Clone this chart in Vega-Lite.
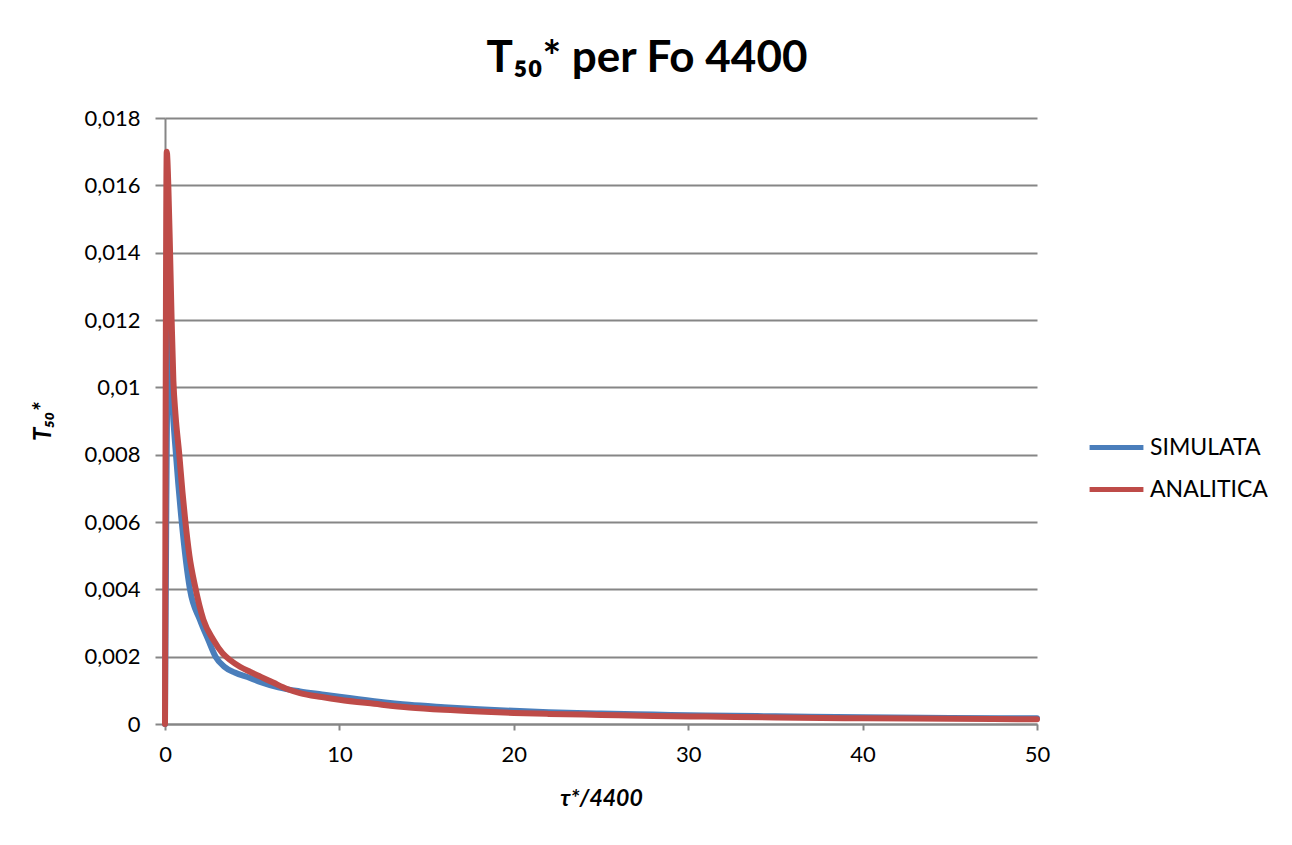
{
  "$schema": "https://vega.github.io/schema/vega-lite/v6.json",
  "autosize": {"type": "none"},
  "padding": {"left": 165, "top": 118, "right": 255, "bottom": 121},
  "width": 872,
  "height": 606,
  "background": "white",
  "config": {
    "font": "Lato",
    "view": {"stroke": null}
  },
  "title": {
    "text": "T₅₀* per Fo 4400",
    "font": "Lato",
    "fontSize": 44,
    "fontWeight": "bold",
    "color": "#000000",
    "anchor": "middle",
    "dx": 46,
    "offset": 26
  },
  "datasets": {
    "sim": [
      {"t": 0, "v": 0},
      {"t": 0.22, "v": 0.0128},
      {"t": 0.42, "v": 0.0096},
      {"t": 0.63, "v": 0.008},
      {"t": 0.96, "v": 0.006},
      {"t": 1.43, "v": 0.004},
      {"t": 2.0, "v": 0.0031},
      {"t": 2.48, "v": 0.0025},
      {"t": 2.9, "v": 0.002},
      {"t": 3.4, "v": 0.0017},
      {"t": 4.0, "v": 0.00153},
      {"t": 4.87, "v": 0.00137},
      {"t": 5.45, "v": 0.00125},
      {"t": 6.5, "v": 0.00109},
      {"t": 7.74, "v": 0.00097},
      {"t": 9, "v": 0.00088},
      {"t": 10, "v": 0.00081},
      {"t": 12, "v": 0.00068},
      {"t": 14, "v": 0.00057},
      {"t": 16, "v": 0.0005},
      {"t": 18, "v": 0.00044},
      {"t": 20, "v": 0.00039},
      {"t": 22, "v": 0.00035},
      {"t": 25, "v": 0.00031},
      {"t": 28, "v": 0.00028},
      {"t": 31, "v": 0.00025},
      {"t": 35, "v": 0.00023},
      {"t": 40, "v": 0.0002},
      {"t": 45, "v": 0.00018},
      {"t": 50, "v": 0.00017}
    ],
    "ana": [
      {"t": 0, "v": 0},
      {"t": 0.1, "v": 0.017},
      {"t": 0.19, "v": 0.016},
      {"t": 0.29, "v": 0.014},
      {"t": 0.38, "v": 0.012},
      {"t": 0.48, "v": 0.0102},
      {"t": 0.6, "v": 0.0092},
      {"t": 0.82, "v": 0.008},
      {"t": 1.0, "v": 0.0069},
      {"t": 1.15, "v": 0.0061},
      {"t": 1.4, "v": 0.005},
      {"t": 1.72, "v": 0.0041},
      {"t": 2.2, "v": 0.0031},
      {"t": 2.77, "v": 0.0025},
      {"t": 3.3, "v": 0.0021},
      {"t": 3.73, "v": 0.0019},
      {"t": 4.3, "v": 0.0017},
      {"t": 4.87, "v": 0.00155},
      {"t": 5.5, "v": 0.0014},
      {"t": 6.2, "v": 0.00123},
      {"t": 7, "v": 0.00104},
      {"t": 7.74, "v": 0.00092},
      {"t": 9, "v": 0.0008},
      {"t": 10, "v": 0.00072},
      {"t": 12, "v": 0.0006},
      {"t": 14, "v": 0.00049},
      {"t": 16, "v": 0.00042},
      {"t": 18, "v": 0.00037},
      {"t": 20, "v": 0.00033},
      {"t": 22, "v": 0.0003},
      {"t": 25, "v": 0.00027},
      {"t": 28, "v": 0.00024},
      {"t": 31, "v": 0.00022},
      {"t": 35, "v": 0.000195},
      {"t": 40, "v": 0.00017},
      {"t": 45, "v": 0.000155},
      {"t": 50, "v": 0.00014}
    ]
  },
  "encoding": {
    "x": {
      "field": "t",
      "type": "quantitative",
      "scale": {"domain": [0, 50], "nice": false, "zero": false},
      "axis": {
        "title": "τ*/4400",
        "titleFont": "Lato",
        "titleFontSize": 23,
        "titleFontWeight": "bold",
        "titleFontStyle": "italic",
        "titleColor": "#000000",
        "titlePadding": 22,
        "values": [0, 10, 20, 30, 40, 50],
        "labelFont": "Lato",
        "labelFontSize": 22,
        "labelColor": "#000000",
        "labelPadding": 14,
        "labelFlush": false,
        "grid": false,
        "domain": true,
        "domainColor": "#868686",
        "domainWidth": 2,
        "ticks": true,
        "tickColor": "#868686",
        "tickWidth": 2,
        "tickSize": 6
      }
    },
    "y": {
      "field": "v",
      "type": "quantitative",
      "scale": {"domain": [0, 0.018], "nice": false},
      "axis": {
        "title": "T₅₀*",
        "titleFont": "Lato",
        "titleFontSize": 24,
        "titleFontWeight": "bold",
        "titleFontStyle": "italic",
        "titleColor": "#000000",
        "titlePadding": 28,
        "values": [0, 0.002, 0.004, 0.006, 0.008, 0.01, 0.012, 0.014, 0.016, 0.018],
        "labelExpr": "replace(format(datum.value, ''), '.', ',')",
        "labelFont": "Lato",
        "labelFontSize": 22,
        "labelColor": "#000000",
        "labelPadding": 15,
        "grid": true,
        "gridColor": "#868686",
        "gridWidth": 2,
        "domain": true,
        "domainColor": "#868686",
        "domainWidth": 2,
        "ticks": true,
        "tickColor": "#868686",
        "tickWidth": 2,
        "tickSize": 10
      }
    },
    "color": {
      "field": "serie",
      "type": "nominal",
      "scale": {"domain": ["SIMULATA", "ANALITICA"], "range": ["#4A7EBB", "#BE4B48"]},
      "legend": {
        "title": null,
        "orient": "none",
        "legendX": 922,
        "legendY": 300,
        "symbolType": "stroke",
        "symbolSize": 2900,
        "symbolStrokeWidth": 5,
        "labelFont": "Lato",
        "labelFontSize": 23,
        "labelColor": "#000000",
        "labelOffset": 4,
        "rowPadding": -8,
        "labelLimit": 300
      }
    }
  },
  "layer": [
    {
      "data": {"name": "sim"},
      "transform": [{"calculate": "'SIMULATA'", "as": "serie"}],
      "mark": {"type": "line", "strokeWidth": 6, "strokeCap": "round", "strokeJoin": "round", "interpolate": "monotone"}
    },
    {
      "data": {"name": "ana"},
      "transform": [{"calculate": "'ANALITICA'", "as": "serie"}],
      "mark": {"type": "line", "strokeWidth": 6, "strokeCap": "round", "strokeJoin": "round", "interpolate": "monotone"}
    }
  ]
}
